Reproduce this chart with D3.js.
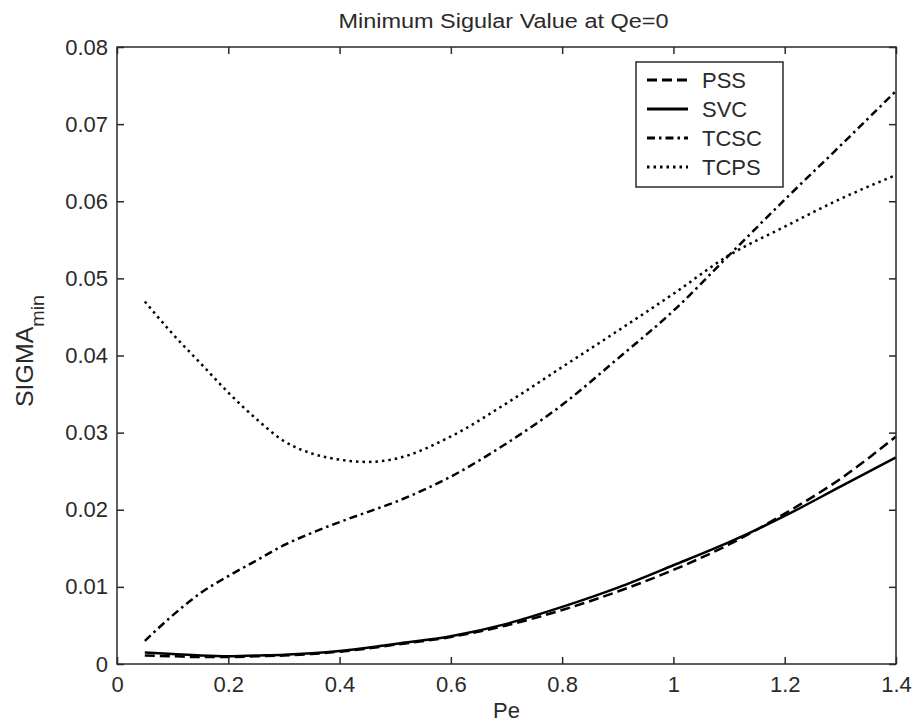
<!DOCTYPE html>
<html>
<head>
<meta charset="utf-8">
<script src="https://cdn.jsdelivr.net/npm/d3@7"></script>
<style>
  body { margin: 0; background: #fff; }
  svg { display: block; font-family: "Liberation Sans", Arial, sans-serif; }
</style>
</head>
<body>
<script>
// data
const pe = [0.05, 0.1, 0.15, 0.2, 0.25, 0.3, 0.35, 0.4, 0.45, 0.5, 0.6, 0.7, 0.8, 0.9, 1.0, 1.1, 1.2, 1.3, 1.4]
const pss = [0.0011, 0.0010, 0.0009, 0.0009, 0.0010, 0.0011, 0.0013, 0.0016, 0.0020, 0.0025, 0.0035, 0.0050, 0.0070, 0.0094, 0.0122, 0.0155, 0.0195, 0.0240, 0.0295]
const svc = [0.0015, 0.0013, 0.0011, 0.0010, 0.0011, 0.0012, 0.0014, 0.0017, 0.0021, 0.0026, 0.0036, 0.0052, 0.0074, 0.0099, 0.0128, 0.0158, 0.0192, 0.0230, 0.0268]
const tcsc = [0.0030, 0.0063, 0.0092, 0.0114, 0.0134, 0.0154, 0.0170, 0.0184, 0.0197, 0.0210, 0.0243, 0.0286, 0.0336, 0.0396, 0.0458, 0.0530, 0.0602, 0.0672, 0.0743]
const tcps = [0.0470, 0.0428, 0.0390, 0.0352, 0.0318, 0.0289, 0.0273, 0.0265, 0.0262, 0.0266, 0.0295, 0.0338, 0.0385, 0.0432, 0.0480, 0.0530, 0.0567, 0.0603, 0.0634]
const seriesNames = ['PSS', 'SVC', 'TCSC', 'TCPS']
const xTicks = [0, 0.2, 0.4, 0.6, 0.8, 1, 1.2, 1.4]
const xTickLabels = ['0', '0.2', '0.4', '0.6', '0.8', '1', '1.2', '1.4']
const yTicks = [0, 0.01, 0.02, 0.03, 0.04, 0.05, 0.06, 0.07, 0.08]
const yTickLabels = ['0', '0.01', '0.02', '0.03', '0.04', '0.05', '0.06', '0.07', '0.08']

const dashes = {PSS: '10,5', SVC: null, TCSC: '8,4,2.5,4', TCPS: '2.5,4'}
const series = [pss, svc, tcsc, tcps].map((vals, i) => ({
  name: seriesNames[i],
  points: vals.map((v, j) => [pe[j], v])
}))

const margin = {top: 47, bottom: 64, left: 117, right: 18}
const W = 914, H = 728
const width = W - margin.left - margin.right
const height = H - margin.top - margin.bottom
const ink = '#2a2a2a'

const svg = d3.select('body').append('svg')
  .attr('width', W)
  .attr('height', H)

const g = svg.append('g')
  .attr('transform', `translate(${margin.left},${margin.top})`)

const x = d3.scaleLinear().domain([0, 1.4]).range([0, width])
const y = d3.scaleLinear().domain([0, 0.08]).range([height, 0])

// curves
const line = d3.line()
  .x(d => x(d[0]))
  .y(d => y(d[1]))
  .curve(d3.curveMonotoneX)

g.selectAll('path.curve')
  .data(series)
  .join('path')
  .attr('class', 'curve')
  .attr('d', d => line(d.points))
  .attr('fill', 'none')
  .attr('stroke', '#000')
  .attr('stroke-width', 2.5)
  .attr('stroke-dasharray', d => dashes[d.name])

// axes, ticks pointing inward like matlab
function styleAxis(sel) {
  sel.select('.domain').remove()
  sel.selectAll('line').attr('stroke', ink).attr('stroke-width', 1.5)
  sel.selectAll('text')
    .attr('fill', ink)
    .style('font-size', '22px')
}

const xAxis = d3.axisBottom(x).tickValues(xTicks)
  .tickFormat((d, i) => xTickLabels[i])
  .tickSizeInner(-7).tickSizeOuter(0).tickPadding(12)
g.append('g').attr('transform', `translate(0,${height})`).call(xAxis).call(styleAxis)

g.append('g')
  .call(d3.axisTop(x).tickValues(xTicks).tickFormat('').tickSizeInner(-7).tickSizeOuter(0))
  .call(styleAxis)

const yAxis = d3.axisLeft(y).tickValues(yTicks)
  .tickFormat((d, i) => yTickLabels[i])
  .tickSizeInner(-7).tickSizeOuter(0).tickPadding(9)
g.append('g').call(yAxis).call(styleAxis)

g.append('g').attr('transform', `translate(${width},0)`)
  .call(d3.axisRight(y).tickValues(yTicks).tickFormat('').tickSizeInner(-7).tickSizeOuter(0))
  .call(styleAxis)

g.append('rect')
  .attr('width', width)
  .attr('height', height)
  .attr('fill', 'none')
  .attr('stroke', ink)
  .attr('stroke-width', 1.5)

// labels
svg.append('text')
  .attr('x', margin.left + width / 2 - 3)
  .attr('y', 28)
  .attr('text-anchor', 'middle')
  .attr('textLength', 330)
  .attr('lengthAdjust', 'spacingAndGlyphs')
  .attr('fill', ink)
  .style('font-size', '20px')
  .text('Minimum Sigular Value at Qe=0')

svg.append('text')
  .attr('x', margin.left + width / 2)
  .attr('y', 718)
  .attr('text-anchor', 'middle')
  .attr('fill', ink)
  .style('font-size', '22px')
  .text('Pe')

const ylab = svg.append('text')
  .attr('transform', 'translate(33,351) rotate(-90)')
  .attr('text-anchor', 'middle')
  .attr('textLength', 112)
  .attr('lengthAdjust', 'spacingAndGlyphs')
  .attr('fill', ink)
  .style('font-size', '24px')
ylab.append('tspan').text('SIGMA')
ylab.append('tspan').attr('dy', 11).style('font-size', '19px').text('min')

// legend
const legend = svg.append('g').attr('transform', 'translate(636,62)')
legend.append('rect')
  .attr('width', 147)
  .attr('height', 125)
  .attr('fill', '#fff')
  .attr('stroke', ink)
  .attr('stroke-width', 1.5)

const rowY = d3.scalePoint().domain(seriesNames).range([18, 105])
const rows = legend.selectAll('g.row')
  .data(series)
  .join('g')
  .attr('class', 'row')
  .attr('transform', d => `translate(0,${rowY(d.name)})`)

rows.append('line')
  .attr('x1', 11).attr('x2', 52)
  .attr('stroke', '#000')
  .attr('stroke-width', 3)
  .attr('stroke-dasharray', d => dashes[d.name])

rows.append('text')
  .attr('x', 66)
  .attr('y', 8)
  .attr('fill', ink)
  .style('font-size', '22px')
  .text(d => d.name)
</script>
</body>
</html>
